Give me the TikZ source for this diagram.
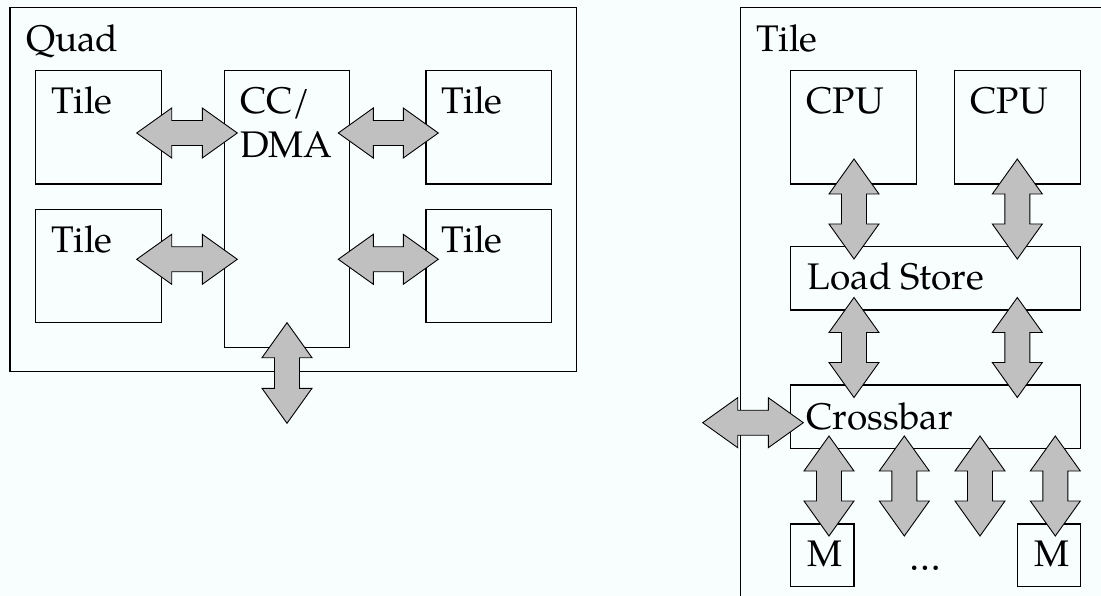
\documentclass[tikz,border=0pt]{standalone}
\usepackage{fontspec}
\setmainfont{TeX Gyre Pagella}
\usetikzlibrary{calc}
\definecolor{paper}{RGB}{248,253,253}
\definecolor{arrowgray}{RGB}{192,192,192}
\tikzset{
  box/.style={rectangle, draw=black, line width=1.1pt, inner sep=0pt, outer sep=0pt, anchor=north west},
  lbl/.style={inner sep=0pt, outer sep=0pt, anchor=base west, font=\fontsize{37}{44}\selectfont},
  blockarrow/.style={draw=black, fill=arrowgray, line width=0.9pt, line join=miter},
}
% block double arrow between two named points
\newcommand\BAhead{35pt}
\newcommand\BAhalf{25pt}
\newcommand\BAshaft{12.5pt}
\newcommand\biarrow[2]{%
  \draw[blockarrow] (#1)
    -- ($(#1)!\BAhead!(#2)!\BAhalf!90:(#2)$)
    -- ($(#1)!\BAhead!(#2)!\BAshaft!90:(#2)$)
    -- ($(#2)!\BAhead!(#1)!\BAshaft!-90:(#1)$)
    -- ($(#2)!\BAhead!(#1)!\BAhalf!-90:(#1)$)
    -- (#2)
    -- ($(#2)!\BAhead!(#1)!\BAhalf!90:(#1)$)
    -- ($(#2)!\BAhead!(#1)!\BAshaft!90:(#1)$)
    -- ($(#1)!\BAhead!(#2)!\BAshaft!-90:(#2)$)
    -- ($(#1)!\BAhead!(#2)!\BAhalf!-90:(#2)$)
    -- cycle;}
\begin{document}
\begin{tikzpicture}[x=1pt, y=-1pt]
  \fill[paper] (0,0) rectangle (1101,596);
  \useasboundingbox (0,0) rectangle (1101,596);

  % ---------- Quad ----------
  \node[box, minimum width=566.7pt, minimum height=364.4pt] (quad) at (10,7.3) {};
  \node[lbl] (quadlbl) at (26,51.7) {Quad};

  \node[box, minimum width=126.4pt, minimum height=113.3pt] (tileTL) at (35.3,70.7) {};
  \node[box, minimum width=126.4pt, minimum height=113.3pt] (tileBL) at (35.3,209.3) {};
  \node[box, minimum width=125.7pt, minimum height=113.3pt] (tileTR) at (426,70.7) {};
  \node[box, minimum width=125.7pt, minimum height=113.3pt] (tileBR) at (426,209.3) {};
  \node[box, minimum width=125pt, minimum height=277pt] (ccdma) at (224.3,70.7) {};

  \node[lbl] at ($(tileTL.north west)+(16.4,43.3)$) {Tile};
  \node[lbl] at ($(tileBL.north west)+(16.4,43.3)$) {Tile};
  \node[lbl] at ($(tileTR.north west)+(15.7,43.3)$) {Tile};
  \node[lbl] at ($(tileBR.north west)+(15.7,43.3)$) {Tile};
  \node[lbl] (cclbl) at ($(ccdma.north west)+(15.7,43.3)$) {CC/};
  \node[lbl] (dmalbl) at ($(ccdma.north west)+(15.7,87)$) {DMA};

  \coordinate (tlA) at (136.7,133);   \coordinate (tlB) at (237.3,133);
  \coordinate (blA) at (136.7,259.3); \coordinate (blB) at (237.3,259.3);
  \coordinate (trA) at (338.3,133);   \coordinate (trB) at (438.3,133);
  \coordinate (brA) at (338.3,259.3); \coordinate (brB) at (438.3,259.3);
  \coordinate (qoA) at (287,322.7);   \coordinate (qoB) at (287,423.3);

  \biarrow{tlA}{tlB}
  \biarrow{blA}{blB}
  \biarrow{trA}{trB}
  \biarrow{brA}{brB}
  \biarrow{qoA}{qoB}

  % ---------- Tile ----------
  \node[box, minimum width=420pt, minimum height=640pt] (tile) at (740.7,7.3) {};
  \node[lbl] (tilelbl) at (756.7,51.7) {Tile};

  \node[box, minimum width=126pt, minimum height=113.3pt] (cpuA) at (790.7,70.7) {};
  \node[box, minimum width=126pt, minimum height=113.3pt] (cpuB) at (954.7,70.7) {};
  \node[box, minimum width=290pt, minimum height=63.3pt] (ls) at (790.7,246.7) {};
  \node[box, minimum width=290pt, minimum height=63.3pt] (xbar) at (790.7,385) {};
  \node[box, minimum width=63.3pt, minimum height=62.7pt] (memA) at (790.7,524) {};
  \node[box, minimum width=63pt, minimum height=62.7pt] (memB) at (1017.7,524) {};

  \node[lbl] at ($(cpuA.north west)+(16,42.6)$) {CPU};
  \node[lbl] at ($(cpuB.north west)+(16,42.6)$) {CPU};
  \node[lbl] at ($(ls.north west)+(17,42.6)$) {Load Store};
  \node[lbl] at ($(xbar.north west)+(16,44)$) {Crossbar};
  \node[lbl] at ($(memA.north west)+(16.6,42.7)$) {M};
  \node[lbl] at ($(memB.north west)+(16.6,42.7)$) {M};
  \node[lbl, anchor=base] (dots) at (925.7,570.7) {…};

  \coordinate (caA) at (854,159);    \coordinate (caB) at (854,259);
  \coordinate (cbA) at (1017.3,159); \coordinate (cbB) at (1017.3,259);
  \coordinate (laA) at (854,297.5);    \coordinate (laB) at (854,397.5);
  \coordinate (lbA) at (1017.3,297.5); \coordinate (lbB) at (1017.3,397.5);
  \coordinate (m1A) at (829,436);    \coordinate (m1B) at (829,536);
  \coordinate (m2A) at (904.3,436);  \coordinate (m2B) at (904.3,536);
  \coordinate (m3A) at (980,436);    \coordinate (m3B) at (980,536);
  \coordinate (m4A) at (1055.3,436); \coordinate (m4B) at (1055.3,536);
  \coordinate (xoA) at (702.7,422.7); \coordinate (xoB) at (803.3,422.7);

  \biarrow{caA}{caB}
  \biarrow{cbA}{cbB}
  \biarrow{laA}{laB}
  \biarrow{lbA}{lbB}
  \biarrow{m1A}{m1B}
  \biarrow{m2A}{m2B}
  \biarrow{m3A}{m3B}
  \biarrow{m4A}{m4B}
  \biarrow{xoA}{xoB}
\end{tikzpicture}
\end{document}
